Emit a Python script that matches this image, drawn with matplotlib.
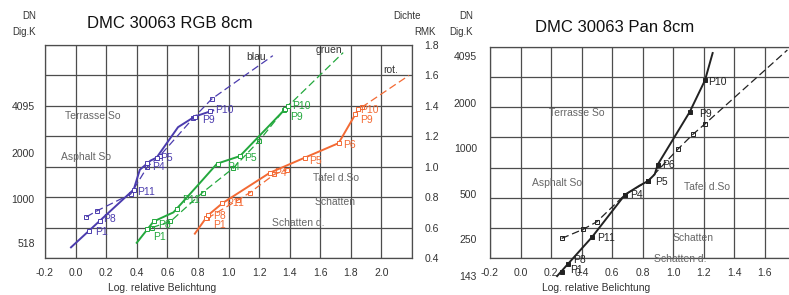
import numpy as np
import matplotlib.pyplot as plt
import matplotlib.transforms as mtransforms

plt.rcParams['font.family'] = ['Liberation Sans', 'DejaVu Sans']

# ---------------- data: RGB panel (x = log rel. exposure, y = density RMK)
blue_x = [-0.03, 0.38, 0.42, 0.49, 0.53, 0.67, 0.78, 0.90]
blue_y = [0.47, 0.85, 0.98, 1.04, 1.06, 1.26, 1.33, 1.37]
blue_ref_x = [0.07, 0.14, 0.36, 0.47, 0.55, 0.77, 0.89, 1.29]
blue_ref_y = [0.67, 0.71, 0.82, 1.00, 1.07, 1.32, 1.445, 1.73]

green_x = [0.40, 0.51, 0.64, 0.81, 0.925, 1.075, 1.40]
green_y = [0.50, 0.64, 0.70, 0.89, 1.02, 1.07, 1.41]
green_ref_x = [0.50, 0.62, 0.83, 1.03, 1.20, 1.36, 1.75]
green_ref_y = [0.60, 0.64, 0.83, 0.99, 1.17, 1.37, 1.75]

red_x = [0.78, 0.865, 0.96, 1.27, 1.50, 1.72, 1.85]
red_y = [0.56, 0.68, 0.76, 0.96, 1.06, 1.155, 1.38]
red_ref_x = [0.86, 1.06, 1.14, 1.30, 1.38, None, 1.87, 2.18]
red_ref_y = [0.66, 0.78, 0.83, 0.95, 0.98, None, 1.39, 1.60]

# measuring points: marker on the curve and label position
blue_pts = ['P1', 'P8', 'P11', 'P4', 'P5', 'P9', 'P10']
blue_mk_x = [0.09, 0.16, 0.38, 0.47, 0.53, 0.78, 0.88]
blue_mk_y = [0.58, 0.646, 0.85, 1.023, 1.06, 1.33, 1.366]
blue_lb_x = [0.127, 0.18, 0.40, 0.50, 0.55, 0.827, 0.915]
blue_lb_y = [0.57, 0.655, 0.833, 1.00, 1.06, 1.307, 1.37]

green_pts = ['P1', 'P8', 'P11', 'P4', 'P5', 'P9', 'P10']
green_mk_x = [0.47, 0.51, 0.66, 0.93, 1.075, 1.37, 1.39]
green_mk_y = [0.59, 0.64, 0.72, 1.02, 1.07, 1.38, 1.40]
green_lb_x = [0.506, 0.54, 0.695, 0.99, 1.10, 1.40, 1.415]
green_lb_y = [0.537, 0.62, 0.78, 1.00, 1.06, 1.33, 1.40]

red_pts = ['P1', 'P8', 'P11', 'P4', 'P5', 'P6', 'P9', 'P10']
red_mk_x = [0.85, 0.865, 0.96, 1.27, 1.50, 1.72, 1.83, 1.85]
red_mk_y = [0.66, 0.68, 0.76, 0.96, 1.06, 1.155, 1.345, 1.38]
red_lb_x = [0.90, 0.90, 0.985, 1.30, 1.53, 1.75, 1.86, 1.86]
red_lb_y = [0.615, 0.675, 0.76, 0.96, 1.04, 1.14, 1.31, 1.37]

# ---------------- data: Pan panel
pan_x = [0.24, 0.47, 0.685, 0.78, 0.835, 0.88, 0.90, 1.11, 1.21, 1.26]
pan_y = [0.28, 0.54, 0.82, 0.88, 0.91, 0.955, 1.02, 1.37, 1.58, 1.76]
pan_ref_x = [0.27, 0.41, 0.50, 0.685, 0.835, 1.03, 1.13, 1.21, 1.75]
pan_ref_y = [0.53, 0.59, 0.64, 0.82, 0.91, 1.12, 1.22, 1.29, 1.78]
pan_pts = ['P1', 'P8', 'P11', 'P4', 'P5', 'P6', 'P9', 'P10']
pan_mk_x = [0.27, 0.31, 0.47, 0.685, 0.835, 0.90, 1.11, 1.21]
pan_mk_y = [0.31, 0.36, 0.54, 0.82, 0.91, 1.02, 1.37, 1.58]
pan_lb_x = [0.325, 0.345, 0.50, 0.72, 0.88, 0.93, 1.17, 1.23]
pan_lb_y = [0.32, 0.39, 0.533, 0.817, 0.903, 1.02, 1.358, 1.57]

# area labels
rgb_areas = ['Terrasse So', 'Asphalt So', 'Tafel d.So', 'Schatten', 'Schatten d.']
rgb_areas_x = [0.114, 0.068, 1.70, 1.70, 1.455]
rgb_areas_y = [1.333, 1.063, 0.925, 0.767, 0.63]
pan_areas = ['Terrasse So', 'Asphalt So', 'Tafel d.So', 'Schatten', 'Schatten d.']
pan_areas_x = [0.37, 0.24, 1.22, 1.13, 1.05]
pan_areas_y = [1.36, 0.90, 0.87, 0.53, 0.395]

# channel names at the end of the dashed lines
chan_names = ['blau', 'gruen', 'rot.']
chan_x = [1.18, 1.66, 2.06]
chan_y = [1.72, 1.77, 1.635]

# DN (digital counts) labels of the left axes, log10 scale
rgb_dn = [4095, 2000, 1000, 518]
pan_dn = [4095, 2000, 1000, 500, 250, 143]
rgb_offset = 2.22
pan_offset = 1.88

BLUE = '#4b3cae'
GREEN = '#23a83d'
RED = '#f36a34'
BLACK = '#222222'
GRID = '#4d4d4d'
TXT = '#333333'
AREA = '#666666'


def setup(ax, xmax, last_label):
    ax.set_xlim(-0.2, xmax)
    ax.set_ylim(0.4, 1.8)
    ticks = np.round(np.arange(-0.2, xmax + 0.01, 0.2), 1)
    labels = [f'{t:.1f}' if t <= last_label else '' for t in ticks]
    ax.set_xticks(ticks, labels)
    ax.set_yticks(np.round(np.arange(0.4, 1.81, 0.2), 1))
    ax.grid(True, color=GRID, lw=0.9)
    for s in ax.spines.values():
        s.set_color(GRID)
        s.set_linewidth(0.9)
    ax.tick_params(length=0, labelsize=7.5, colors=TXT, pad=7)


def curve(ax, x, y, ref_x, ref_y, color):
    ax.plot(x, y, color=color, lw=1.4, clip_on=False, zorder=3)
    rx = np.array(ref_x, dtype=float)
    ry = np.array(ref_y, dtype=float)
    ax.plot(rx, ry, color=color, lw=0.9, dashes=(6, 3), clip_on=False, zorder=3)
    ax.plot(rx[:-1], ry[:-1], ls='none', marker='s', ms=3, mfc='none',
            mec=color, mew=0.7, zorder=3)


def points(ax, names, mx, my, lx, ly, color, filled):
    ax.plot(mx, my, ls='none', marker='s', ms=2.6, mec=color, mew=0.7,
            mfc=color if filled else 'white', clip_on=False, zorder=4)
    for n, x, y in zip(names, lx, ly):
        ax.text(x, y, n, ha='left', va='center', fontsize=7.5, color=color,
                clip_on=False, zorder=5)


def dn_labels(ax, values, offset, xpos):
    trans = mtransforms.blended_transform_factory(ax.transAxes, ax.transData)
    for v in values:
        ax.text(xpos, np.log10(v) - offset, str(v), transform=trans,
                ha='right', va='center', fontsize=7.5, color=TXT, clip_on=False)


fig = plt.figure(figsize=(7.89, 2.95), dpi=100)
ax1 = fig.add_axes([45 / 789, 1 - 258 / 295, 367 / 789, 213 / 295])
ax2 = fig.add_axes([490 / 789, 1 - 258 / 295, 305 / 789, 211 / 295])

# ---------------- left panel
setup(ax1, 2.2, 2.0)
ax1.yaxis.tick_right()
ax1.set_yticks(ax1.get_yticks(), [f'{t:.1f}' for t in ax1.get_yticks()])
ax1.tick_params(axis='y', pad=9)

curve(ax1, blue_x, blue_y, blue_ref_x, blue_ref_y, BLUE)
curve(ax1, green_x, green_y, green_ref_x, green_ref_y, GREEN)
curve(ax1, red_x, red_y, red_ref_x, red_ref_y, RED)
points(ax1, blue_pts, blue_mk_x, blue_mk_y, blue_lb_x, blue_lb_y, BLUE, False)
points(ax1, green_pts, green_mk_x, green_mk_y, green_lb_x, green_lb_y, GREEN, False)
points(ax1, red_pts, red_mk_x, red_mk_y, red_lb_x, red_lb_y, RED, False)

for n, x, y in zip(chan_names, chan_x, chan_y):
    ax1.text(x, y, n, fontsize=7.5, color=TXT, ha='center', va='center')
for n, x, y in zip(rgb_areas, rgb_areas_x, rgb_areas_y):
    ax1.text(x, y, n, fontsize=7.5, color=AREA, ha='center', va='center')
dn_labels(ax1, rgb_dn, rgb_offset, -0.028)

# ---------------- right panel
setup(ax2, 1.8, 1.6)
ax2.set_yticklabels([])
curve(ax2, pan_x, pan_y, pan_ref_x, pan_ref_y, BLACK)
points(ax2, pan_pts, pan_mk_x, pan_mk_y, pan_lb_x, pan_lb_y, BLACK, True)
for n, x, y in zip(pan_areas, pan_areas_x, pan_areas_y):
    ax2.text(x, y, n, fontsize=7.5, color=AREA, ha='center', va='center')
dn_labels(ax2, pan_dn, pan_offset, -0.043)

# ---------------- texts around the panels
fig.text(87 / 789, 1 - 23 / 295, 'DMC 30063 RGB 8cm', fontsize=12,
         ha='left', va='center', color='#111111')
fig.text(535 / 789, 1 - 28 / 295, 'DMC 30063 Pan 8cm', fontsize=12,
         ha='left', va='center', color='#111111')
for xr in [36, 473]:
    fig.text(xr / 789, 1 - 16 / 295, 'DN', fontsize=7, ha='right', va='center', color=TXT)
    fig.text(xr / 789, 1 - 32 / 295, 'Dig.K', fontsize=7, ha='right', va='center', color=TXT)
fig.text(421 / 789, 1 - 16 / 295, 'Dichte', fontsize=7, ha='right', va='center', color=TXT)
fig.text(436 / 789, 1 - 32 / 295, 'RMK', fontsize=7, ha='right', va='center', color=TXT)
fig.text(162 / 789, 1 - 288 / 295, 'Log. relative Belichtung', fontsize=7.5,
         ha='center', va='center', color=TXT)
fig.text(596 / 789, 1 - 288 / 295, 'Log. relative Belichtung', fontsize=7.5,
         ha='center', va='center', color=TXT)

fig.savefig('out.png', dpi=100)
